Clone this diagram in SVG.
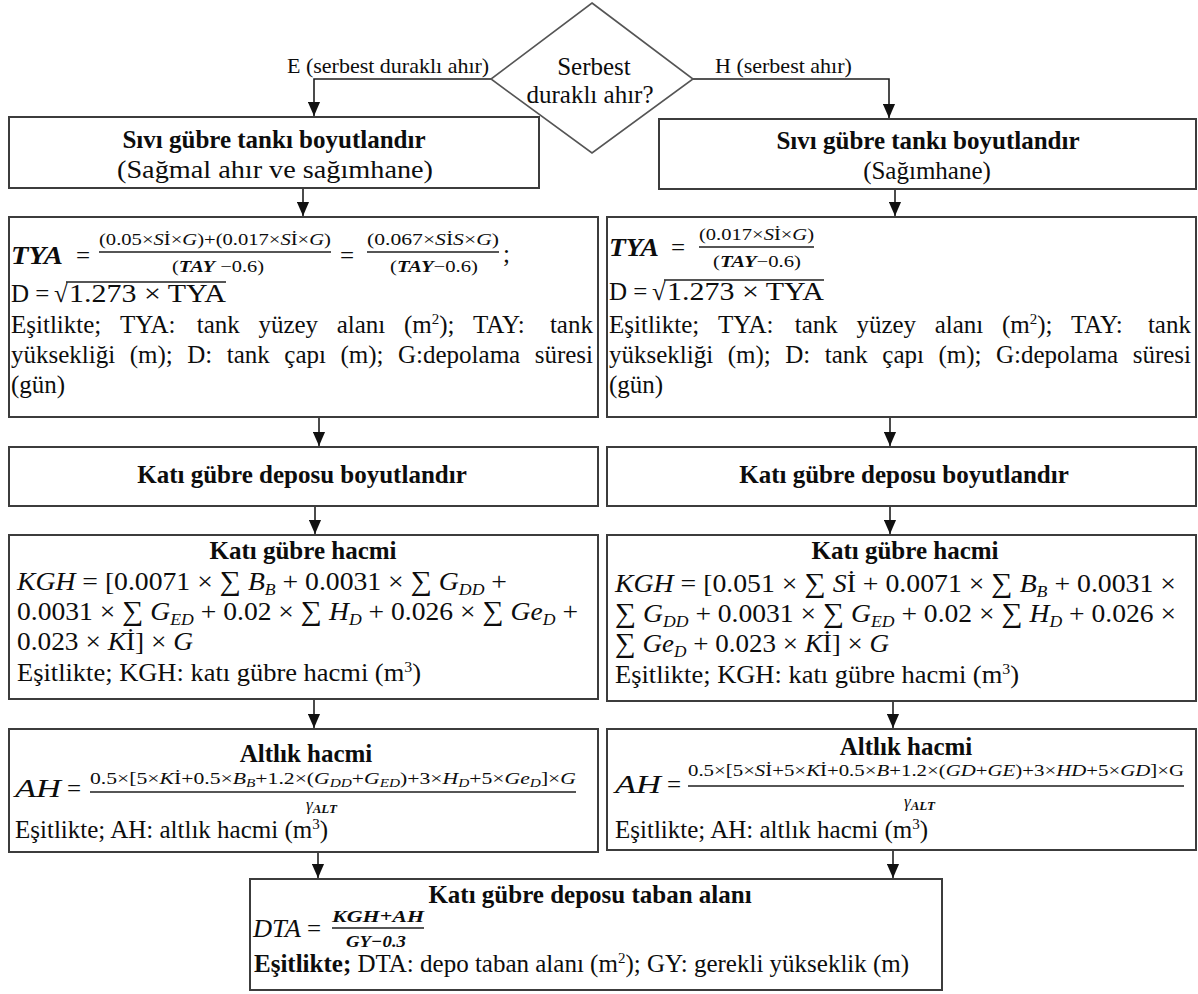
<svg xmlns="http://www.w3.org/2000/svg" width="1198" height="994" viewBox="0 0 1198 994" font-family="'Liberation Serif', 'Times New Roman', serif">
<style>
.bx{fill:#fff;stroke:#3c3c3c;stroke-width:2}
.dm{fill:none;stroke:#555;stroke-width:1.6}
.t{font-family:'Liberation Serif','Times New Roman',serif;font-size:25px;fill:#0d0d0d}
.tb{font-weight:bold}
.c{text-anchor:middle}
.i{font-style:italic}
.sm{font-size:17px}
.lb{font-size:22px}
.sg{font-size:27px}
.cn{fill:none;stroke:#1e1e1e;stroke-width:1.6}
.fb{stroke:#1e1e1e;stroke-width:1.3}
</style>
<defs>
<marker id="ah" markerUnits="userSpaceOnUse" markerWidth="14" markerHeight="13" refX="15" refY="6.5" orient="auto" viewBox="0 0 15 13">
<path d="M0,0 L15,6.5 L0,13 z" fill="#111"/>
</marker>
</defs>

<g id="connectors">
<path class="cn" d="M491,79 H314 V116" marker-end="url(#ah)"/>
<path class="cn" d="M693,79 H889 V118" marker-end="url(#ah)"/>
<path class="cn" d="M303,188 V216" marker-end="url(#ah)"/>
<path class="cn" d="M895,189 V216" marker-end="url(#ah)"/>
<path class="cn" d="M319,417 V446" marker-end="url(#ah)"/>
<path class="cn" d="M890,417 V446" marker-end="url(#ah)"/>
<path class="cn" d="M315,506 V534" marker-end="url(#ah)"/>
<path class="cn" d="M890,506 V534" marker-end="url(#ah)"/>
<path class="cn" d="M314,699 V728" marker-end="url(#ah)"/>
<path class="cn" d="M893,701 V728" marker-end="url(#ah)"/>
<path class="cn" d="M318,852 V878" marker-end="url(#ah)"/>
<path class="cn" d="M893,850 V878" marker-end="url(#ah)"/>
<text class="t lb" x="287" y="73">E (serbest duraklı ahır)</text>
<text class="t lb" x="715" y="73">H (serbest ahır)</text>
</g>

<g id="decision">
<polygon class="dm" points="592,3 693,79 592,153 491,79"/>
<text class="t c" x="594" y="75" font-size="26">Serbest</text>
<text class="t c" x="590" y="103" font-size="26">duraklı ahır?</text>
</g>

<g id="liquid-left">
<rect class="bx" x="9" y="117" width="530" height="71"/>
<text class="t tb c" x="274" y="148" font-size="26">Sıvı gübre tankı boyutlandır</text>
<text class="t c" x="275" y="178" textLength="316" lengthAdjust="spacingAndGlyphs">(Sağmal ahır ve sağımhane)</text>
</g>

<g id="liquid-right">
<rect class="bx" x="659" y="119" width="537" height="70"/>
<text class="t tb c" x="928" y="149" font-size="26">Sıvı gübre tankı boyutlandır</text>
<text class="t c" x="927" y="179" font-size="27">(Sağımhane)</text>
</g>

<g id="tank-left">
<rect class="bx" x="9" y="217" width="589" height="200"/>
<text class="t i tb" x="11" y="264" textLength="52" lengthAdjust="spacingAndGlyphs">TYA</text>
<text class="t" x="76" y="264">=</text>
<text class="t sm" x="99" y="245" textLength="232" lengthAdjust="spacingAndGlyphs">(0.05×<tspan class="i">S</tspan>İ×<tspan class="i">G</tspan>)+(0.017×<tspan class="i">S</tspan>İ×<tspan class="i">G</tspan>)</text>
<line class="fb" x1="99" y1="252" x2="331" y2="252"/>
<text class="t sm" x="172" y="272" textLength="92" lengthAdjust="spacingAndGlyphs">(<tspan class="i tb">TAY</tspan> −0.6)</text>
<text class="t" x="340" y="264">=</text>
<text class="t sm" x="367" y="245" textLength="132" lengthAdjust="spacingAndGlyphs">(0.067×<tspan class="i">S</tspan>İ<tspan class="i">S</tspan>×<tspan class="i">G</tspan>)</text>
<line class="fb" x1="367" y1="252" x2="499" y2="252"/>
<text class="t sm" x="390" y="272" textLength="88" lengthAdjust="spacingAndGlyphs">(<tspan class="i tb">TAY</tspan>−0.6)</text>
<text class="t" x="503" y="262" font-size="18">;</text>
<text class="t" x="11" y="302">D =</text>
<text class="t" x="54" y="302">√</text>
<line class="fb" x1="66" y1="282" x2="226" y2="282"/>
<text class="t" x="69" y="302" textLength="157" lengthAdjust="spacingAndGlyphs">1.273 × TYA</text>
<text class="t" y="333"><tspan x="11">Eşitlikte;</tspan><tspan x="119.9">TYA:</tspan><tspan x="196.8">tank</tspan><tspan x="258.4">yüzey</tspan><tspan x="336.7">alanı</tspan><tspan x="403.9">(m</tspan><tspan font-size="15" dy="-9">2</tspan><tspan dy="9">);</tspan><tspan x="473">TAY:</tspan><tspan x="549.9">tank</tspan></text>
<text class="t" y="363"><tspan x="11">yüksekliği</tspan><tspan x="129.7">(m);</tspan><tspan x="187.3">D:</tspan><tspan x="226.8">tank</tspan><tspan x="284.3">çapı</tspan><tspan x="340.5">(m);</tspan><tspan x="398">G:depolama</tspan><tspan x="534.7">süresi</tspan></text>
<text class="t" x="11" y="393">(gün)</text>
</g>

<g id="tank-right">
<rect class="bx" x="607" y="217" width="589" height="200"/>
<text class="t i tb" x="609" y="256" textLength="50" lengthAdjust="spacingAndGlyphs">TYA</text>
<text class="t" x="671" y="256">=</text>
<text class="t sm" x="699" y="240" textLength="115" lengthAdjust="spacingAndGlyphs">(0.017×<tspan class="i">S</tspan>İ×<tspan class="i">G</tspan>)</text>
<line class="fb" x1="699" y1="247" x2="814" y2="247"/>
<text class="t sm" x="713" y="267" textLength="88" lengthAdjust="spacingAndGlyphs">(<tspan class="i tb">TAY</tspan>−0.6)</text>
<text class="t" x="609" y="300">D =</text>
<text class="t" x="652" y="300">√</text>
<line class="fb" x1="664" y1="280" x2="824" y2="280"/>
<text class="t" x="667" y="300" textLength="157" lengthAdjust="spacingAndGlyphs">1.273 × TYA</text>
<text class="t" y="333"><tspan x="609">Eşitlikte;</tspan><tspan x="717.9">TYA:</tspan><tspan x="794.8">tank</tspan><tspan x="856.4">yüzey</tspan><tspan x="934.7">alanı</tspan><tspan x="1001.9">(m</tspan><tspan font-size="15" dy="-9">2</tspan><tspan dy="9">);</tspan><tspan x="1071">TAY:</tspan><tspan x="1147.9">tank</tspan></text>
<text class="t" y="363"><tspan x="609">yüksekliği</tspan><tspan x="727.7">(m);</tspan><tspan x="785.3">D:</tspan><tspan x="824.8">tank</tspan><tspan x="882.3">çapı</tspan><tspan x="938.5">(m);</tspan><tspan x="996">G:depolama</tspan><tspan x="1132.7">süresi</tspan></text>
<text class="t" x="609" y="393">(gün)</text>
</g>

<g id="solid-left">
<rect class="bx" x="9" y="447" width="589" height="59"/>
<text class="t tb c" x="302" y="483" font-size="26">Katı gübre deposu boyutlandır</text>
</g>

<g id="solid-right">
<rect class="bx" x="607" y="447" width="589" height="59"/>
<text class="t tb c" x="904" y="483" font-size="26">Katı gübre deposu boyutlandır</text>
</g>

<g id="volume-left">
<rect class="bx" x="9" y="535" width="589" height="164"/>
<text class="t tb c" x="303" y="559" font-size="26">Katı gübre hacmi</text>
<text class="t" x="17" y="590" textLength="490" lengthAdjust="spacingAndGlyphs"><tspan class="i">KGH</tspan> = [0.0071 × <tspan class="sg">∑</tspan> <tspan class="i">B</tspan><tspan class="i" font-size="16" dy="5">B</tspan><tspan dy="-5"> + 0.0031 × </tspan><tspan class="sg">∑</tspan> <tspan class="i">G</tspan><tspan class="i" font-size="16" dy="5">DD</tspan><tspan dy="-5"> +</tspan></text>
<text class="t" x="17" y="620" textLength="561" lengthAdjust="spacingAndGlyphs">0.0031 × <tspan class="sg">∑</tspan> <tspan class="i">G</tspan><tspan class="i" font-size="16" dy="5">ED</tspan><tspan dy="-5">  + 0.02 × </tspan><tspan class="sg">∑</tspan> <tspan class="i">H</tspan><tspan class="i" font-size="16" dy="5">D</tspan><tspan dy="-5"> + 0.026 × </tspan><tspan class="sg">∑</tspan> <tspan class="i">Ge</tspan><tspan class="i" font-size="16" dy="5">D</tspan><tspan dy="-5"> +</tspan></text>
<text class="t" x="17" y="650" textLength="176" lengthAdjust="spacingAndGlyphs">0.023 × <tspan class="i">K</tspan>İ] × <tspan class="i">G</tspan></text>
<text class="t" x="17" y="681" textLength="404" lengthAdjust="spacingAndGlyphs">Eşitlikte; KGH: katı gübre hacmi (m<tspan font-size="15" dy="-9">3</tspan><tspan dy="9">)</tspan></text>
</g>

<g id="volume-right">
<rect class="bx" x="607" y="535" width="589" height="166"/>
<text class="t tb c" x="905" y="559" font-size="26">Katı gübre hacmi</text>
<text class="t" x="615" y="592" textLength="561" lengthAdjust="spacingAndGlyphs"><tspan class="i">KGH</tspan> = [0.051 × <tspan class="sg">∑</tspan> <tspan class="i">S</tspan>İ + 0.0071 × <tspan class="sg">∑</tspan> <tspan class="i">B</tspan><tspan class="i" font-size="16" dy="5">B</tspan><tspan dy="-5"> + 0.0031 ×</tspan></text>
<text class="t" x="615" y="622" textLength="561" lengthAdjust="spacingAndGlyphs"><tspan class="sg">∑</tspan> <tspan class="i">G</tspan><tspan class="i" font-size="16" dy="5">DD</tspan><tspan dy="-5"> + 0.0031 × </tspan><tspan class="sg">∑</tspan> <tspan class="i">G</tspan><tspan class="i" font-size="16" dy="5">ED</tspan><tspan dy="-5">  + 0.02 × </tspan><tspan class="sg">∑</tspan> <tspan class="i">H</tspan><tspan class="i" font-size="16" dy="5">D</tspan><tspan dy="-5"> + 0.026 ×</tspan></text>
<text class="t" x="615" y="652" textLength="274" lengthAdjust="spacingAndGlyphs"><tspan class="sg">∑</tspan> <tspan class="i">Ge</tspan><tspan class="i" font-size="16" dy="5">D</tspan><tspan dy="-5"> + 0.023 × </tspan><tspan class="i">K</tspan>İ] × <tspan class="i">G</tspan></text>
<text class="t" x="615" y="683" textLength="404" lengthAdjust="spacingAndGlyphs">Eşitlikte; KGH: katı gübre hacmi (m<tspan font-size="15" dy="-9">3</tspan><tspan dy="9">)</tspan></text>
</g>

<g id="bedding-left">
<rect class="bx" x="9" y="729" width="589" height="123"/>
<text class="t tb c" x="306" y="762" font-size="26">Altlık hacmi</text>
<text class="t i" x="15" y="797" textLength="46" lengthAdjust="spacingAndGlyphs">AH</text>
<text class="t" x="67" y="797">=</text>
<text class="t sm" x="90" y="784" textLength="486" lengthAdjust="spacingAndGlyphs">0.5×[5×<tspan class="i">K</tspan>İ+0.5×<tspan class="i">B</tspan><tspan class="i" font-size="12" dy="3">B</tspan><tspan dy="-3">+1.2×(</tspan><tspan class="i">G</tspan><tspan class="i" font-size="12" dy="3">DD</tspan><tspan dy="-3">+</tspan><tspan class="i">G</tspan><tspan class="i" font-size="12" dy="3">ED</tspan><tspan dy="-3">)+3×</tspan><tspan class="i">H</tspan><tspan class="i" font-size="12" dy="3">D</tspan><tspan dy="-3">+5×</tspan><tspan class="i">Ge</tspan><tspan class="i" font-size="12" dy="3">D</tspan><tspan dy="-3">]×</tspan><tspan class="i">G</tspan></text>
<line class="fb" x1="90" y1="792" x2="576" y2="792"/>
<text class="t sm i" x="306" y="810">γ<tspan font-size="13" dy="3" font-weight="bold">ALT</tspan></text>
<text class="t" x="15" y="838">Eşitlikte; AH: altlık hacmi (m<tspan font-size="15" dy="-9">3</tspan><tspan dy="9">)</tspan></text>
</g>

<g id="bedding-right">
<rect class="bx" x="607" y="729" width="589" height="121"/>
<text class="t tb c" x="906" y="755" font-size="21">Altlık hacmi</text>
<text class="t i" x="615" y="793" textLength="46" lengthAdjust="spacingAndGlyphs">AH</text>
<text class="t" x="667" y="793">=</text>
<text class="t sm" x="688" y="776" textLength="496" lengthAdjust="spacingAndGlyphs">0.5×[5×<tspan class="i">S</tspan>İ+5×<tspan class="i">K</tspan>İ+0.5×<tspan class="i">B</tspan>+1.2×(<tspan class="i">GD</tspan>+<tspan class="i">GE</tspan>)+3×<tspan class="i">HD</tspan>+5×<tspan class="i">GD</tspan>]×G</text>
<line class="fb" x1="688" y1="786" x2="1184" y2="786"/>
<text class="t sm i" x="904" y="807">γ<tspan font-size="13" dy="3" font-weight="bold">ALT</tspan></text>
<text class="t" x="615" y="838">Eşitlikte; AH: altlık hacmi (m<tspan font-size="15" dy="-9">3</tspan><tspan dy="9">)</tspan></text>
</g>

<g id="base-area">
<rect class="bx" x="250" y="879" width="692" height="111"/>
<text class="t tb c" x="590" y="903" font-size="26">Katı gübre deposu taban alanı</text>
<text class="t i" x="253" y="937" textLength="48" lengthAdjust="spacingAndGlyphs">DTA</text>
<text class="t" x="307" y="937">=</text>
<text class="t sm i tb" x="332" y="922" textLength="92" lengthAdjust="spacingAndGlyphs">KGH+AH</text>
<line class="fb" x1="332" y1="928" x2="424" y2="928"/>
<text class="t sm i tb" x="346" y="947" textLength="60" lengthAdjust="spacingAndGlyphs">GY−0.3</text>
<text class="t" x="254" y="972"><tspan class="tb">Eşitlikte;</tspan> DTA: depo taban alanı (m<tspan font-size="15" dy="-9">2</tspan><tspan dy="9">); GY: gerekli yükseklik (m)</tspan></text>
</g>
</svg>
